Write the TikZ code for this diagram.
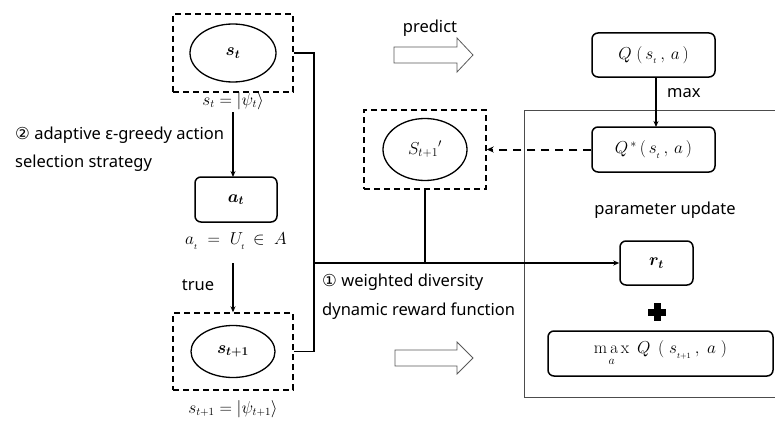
\documentclass[tikz,border=0pt]{standalone}
\usepackage{amsmath}
\usepackage{bm}
\usepackage[no-math]{fontspec}
\setmainfont{Noto Sans}
\newfontfamily\symfont{DejaVu Sans}
\usetikzlibrary{arrows.meta,shapes.geometric}
\begin{document}
\begin{tikzpicture}[x=1pt,y=-1pt,
  dbox/.style={draw, line width=1.4pt, dash pattern=on 6pt off 4pt, minimum width=#1},
  ell/.style={draw, ellipse, line width=1.3pt, inner sep=0pt},
  rbox/.style={draw, rounded corners=6pt, line width=1.5pt, inner sep=0pt},
  conn/.style={line width=1.3pt},
  arr/.style={line width=1.3pt, -{Stealth[length=6pt,width=5pt]}},
  txt/.style={font=\fontsize{16.5}{18}\selectfont, inner sep=0pt},
  mth/.style={font=\fontsize{16}{18}\selectfont, inner sep=0pt},
  hollow/.style={draw=black!65, line width=0.8pt, fill=white}
]
\useasboundingbox (0,0) rectangle (775,420);

% big parameter update frame
\draw[draw=black!70, line width=0.8pt] (776,110) -- (524,110) -- (524,397) -- (776,397);

% left column
\node[dbox=120pt, minimum height=78pt] (stbox) at (233,53) {};
\node[ell, minimum width=86pt, minimum height=58pt] (st) at (233,53) {\fontsize{18}{20}\selectfont$\bm{s_t}$};
\node[mth] (stlab) at (233,101) {$s_t = |\psi_t\rangle$};

\node[rbox, minimum width=82pt, minimum height=45pt] (at) at (236,199.5) {\fontsize{18}{20}\selectfont$\bm{a_t}$};
\node[mth, font=\fontsize{16}{18}\selectfont] (atlab) at (236,241) {$a_{_t}\;=\;U_{_t}\,\in\;A$};

\node[dbox=120pt, minimum height=77pt] (s1box) at (233,351.5) {};
\node[ell, minimum width=84pt, minimum height=52pt] (s1) at (233,351.5) {\fontsize{18}{20}\selectfont$\bm{s_{t+1}}$};
\node[mth] (s1lab) at (233,409) {$s_{t+1} = |\psi_{t+1}\rangle$};

\node[txt, anchor=west] (eps1) at (15,135) {{\symfont ②} adaptive ε-greedy action};
\node[txt, anchor=west] (eps2) at (15,163) {selection strategy};
\node[txt] (true) at (198,285) {true};

\draw[arr] (233,112) -- (233,177);
\draw[arr] (233,263) -- (s1box.north);

% bracket connector
\coordinate (jt) at (314,53);
\coordinate (jb) at (314,351.5);
\coordinate (jr) at (314,263);
\draw[conn] (stbox.east) -- (jt) -- (jb) -- (s1box.east);

% S' box
\node[dbox=122pt, minimum height=79pt] (spbox) at (425,149.5) {};
\node[ell, minimum width=84pt, minimum height=62pt] (sp) at (425,149.5) {\fontsize{17}{19}\selectfont$S_{t+1}{}'$};
\draw[conn] (spbox.south) -- (spbox.south |- jr);

% reward
\node[rbox, minimum width=73pt, minimum height=44pt] (rt) at (656.5,263) {\fontsize{18}{20}\selectfont$\bm{r_t}$};
\draw[arr] (jr) -- (rt.west);

\node[txt, anchor=west] (w1) at (322,282) {{\symfont ①} weighted diversity};
\node[txt, anchor=west] (w2) at (322,311) {dynamic reward function};

% Q boxes
\node[rbox, minimum width=123pt, minimum height=44pt] (Q) at (653.5,55) {\fontsize{17}{19}\selectfont$Q\;(\,s_{_t}\,,\,a\,)$};
\node[rbox, minimum width=123pt, minimum height=45pt] (Qs) at (653.5,149.5) {\fontsize{17}{19}\selectfont$Q^{\,*}\,(\,s_{_t}\,,\,a\,)$};
\draw[arr] (656,77) -- (656,127);
\node[txt, anchor=west] (maxl) at (667,93) {max};
\draw[line width=2pt, dash pattern=on 8pt off 6pt, -{Stealth[length=7pt,width=6pt]}] (Qs.west) -- (spbox.east);

\node[txt] (pu) at (665,210) {parameter update};

% plus
\fill (648,308.5) rectangle (666,315.5);
\fill (653.5,303) rectangle (660.5,321);

\node[rbox, minimum width=225pt, minimum height=45pt] (mx) at (660.5,353.5) {\fontsize{17}{19}\selectfont$\mathop{\mathrm{m\,a\,x}}\limits_{a}\;Q\;\,(\;s_{_{t+1}}\,,\;a\;)$};

% hollow arrows
\node[txt] (pred) at (430,28) {predict};
\draw[hollow] (394,47) -- (457,47) -- (457,38) -- (473,55) -- (457,72) -- (457,63) -- (394,63) -- cycle;
\draw[hollow] (395,350) -- (457,350) -- (457,342) -- (473,358) -- (457,374) -- (457,366) -- (395,366) -- cycle;
\end{tikzpicture}
\end{document}
